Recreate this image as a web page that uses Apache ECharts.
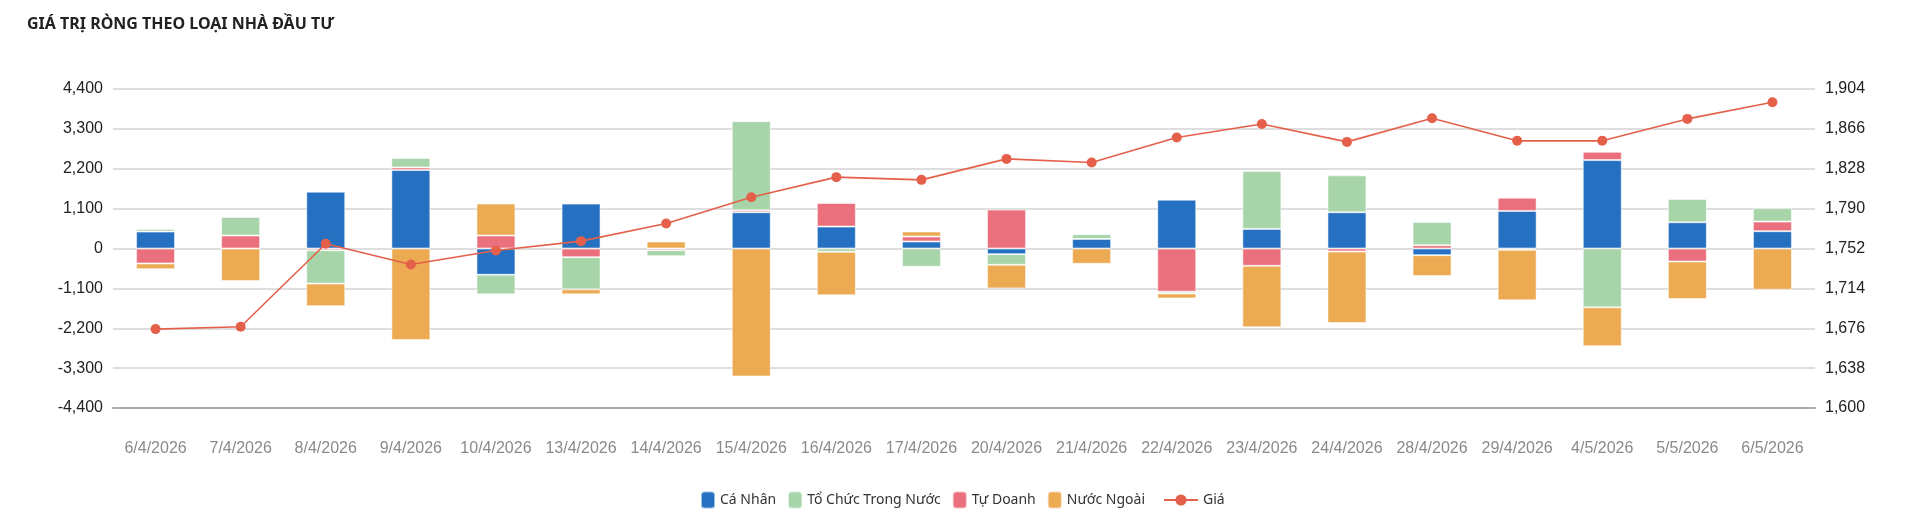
<!DOCTYPE html>
<html>
<head>
<meta charset="utf-8">
<script src="https://cdn.jsdelivr.net/npm/echarts@6/dist/echarts.min.js"></script>
<style>
html,body{margin:0;padding:0;background:#fff;}
#chart{width:1920px;height:531px;}
</style>
</head>
<body>
<div id="chart"></div>
<script>
const categories = ['6/4/2026','7/4/2026','8/4/2026','9/4/2026','10/4/2026','13/4/2026','14/4/2026','15/4/2026','16/4/2026','17/4/2026','20/4/2026','21/4/2026','22/4/2026','23/4/2026','24/4/2026','28/4/2026','29/4/2026','4/5/2026','5/5/2026','6/5/2026'];
const caNhan    = [468, 0, 1568, 2164, -724, 1238, 0, 1000, 605, 193, -156, 266, 1348, 541, 1000, -183, 1036, 2439, 724, 477];
const tuDoanh   = [-413, 358, -50, 73, 358, -238, -46, 55, 651, 138, 1073, 0, -1192, -477, -83, 92, 367, 229, -358, 266];
const toChuc    = [73, 514, -917, 257, -541, -889, -165, 2458, -92, -504, -293, 128, -46, 1596, 1018, 642, -37, -1623, 642, 367];
const nuocNgoai = [-156, -899, -624, -2522, 880, -138, 193, -3530, -1201, 138, -651, -422, -138, -1696, -1972, -578, -1394, -1073, -1036, -1137];
const gia       = [1675.2, 1677.4, 1756.5, 1736.8, 1750.1, 1759.0, 1775.8, 1800.9, 1820.0, 1817.4, 1837.4, 1833.9, 1857.7, 1870.7, 1853.6, 1876.1, 1854.6, 1854.6, 1875.5, 1891.4];
const leftTicks  = [-4400, -3300, -2200, -1100, 0, 1100, 2200, 3300, 4400];
const rightTicks = [1600, 1638, 1676, 1714, 1752, 1790, 1828, 1866, 1904];

const fmt = v => Number(v).toLocaleString('en-US');
const barBorder = {borderColor: 'rgba(255,255,255,0.55)', borderWidth: 1};
const chart = echarts.init(document.getElementById('chart'));
chart.setOption({
  animation: false,
  title: {
    text: 'GIÁ TRỊ RÒNG THEO LOẠI NHÀ ĐẦU TƯ',
    left: 22, top: 11,
    textStyle: {fontFamily: 'Noto Sans', fontSize: 16, fontWeight: 'bold', color: '#222'}
  },
  legend: [{
    data: ['Cá Nhân', 'Tổ Chức Trong Nước', 'Tự Doanh', 'Nước Ngoài'],
    right: 770, top: 485.5,
    itemWidth: 14, itemHeight: 17, itemGap: 11, icon: 'roundRect',
    textStyle: {fontFamily: 'Noto Sans', fontSize: 14, color: '#333'}
  }, {
    data: ['Giá'],
    left: 1158, top: 488,
    itemWidth: 34, itemHeight: 14,
    textStyle: {fontFamily: 'Noto Sans', fontSize: 14, color: '#333'}
  }],
  grid: {left: 113, right: 105, top: 89, bottom: 123},
  xAxis: {
    type: 'category',
    data: categories,
    axisTick: {show: false},
    axisLine: {onZero: false, lineStyle: {color: '#aaa', width: 2}},
    axisLabel: {interval: 0, margin: 33, fontFamily: 'Liberation Sans', fontSize: 16, color: '#8a8a8a'}
  },
  yAxis: [{
    type: 'value',
    min: leftTicks[0], max: leftTicks[leftTicks.length - 1], interval: 1100,
    axisLine: {show: false}, axisTick: {show: false},
    splitLine: {lineStyle: {color: '#dedede', width: 2}},
    axisLabel: {formatter: fmt, margin: 10, fontFamily: 'Liberation Sans', fontSize: 16, color: '#222'}
  }, {
    type: 'value',
    min: rightTicks[0], max: rightTicks[rightTicks.length - 1],
    axisLine: {show: false}, axisTick: {show: false},
    splitLine: {show: false},
    axisLabel: {customValues: rightTicks, formatter: fmt, margin: 10, fontFamily: 'Liberation Sans', fontSize: 16, color: '#222'}
  }],
  series: [
    {name: 'Cá Nhân', type: 'bar', stack: 'nd', barWidth: 39, data: caNhan, itemStyle: Object.assign({color: '#2570C0'}, barBorder)},
    {name: 'Tự Doanh', type: 'bar', stack: 'nd', barWidth: 39, data: tuDoanh, itemStyle: Object.assign({color: '#EB707D'}, barBorder)},
    {name: 'Tổ Chức Trong Nước', type: 'bar', stack: 'nd', barWidth: 39, data: toChuc, itemStyle: Object.assign({color: '#A7D5A9'}, barBorder)},
    {name: 'Nước Ngoài', type: 'bar', stack: 'nd', barWidth: 39, data: nuocNgoai, itemStyle: Object.assign({color: '#ECAA52'}, barBorder)},
    {name: 'Giá', type: 'line', yAxisIndex: 1, data: gia, z: 5,
     symbol: 'circle', symbolSize: 10,
     lineStyle: {color: '#E5604A', width: 1.6},
     itemStyle: {color: '#E5604A'}}
  ]
});
</script>
</body>
</html>
